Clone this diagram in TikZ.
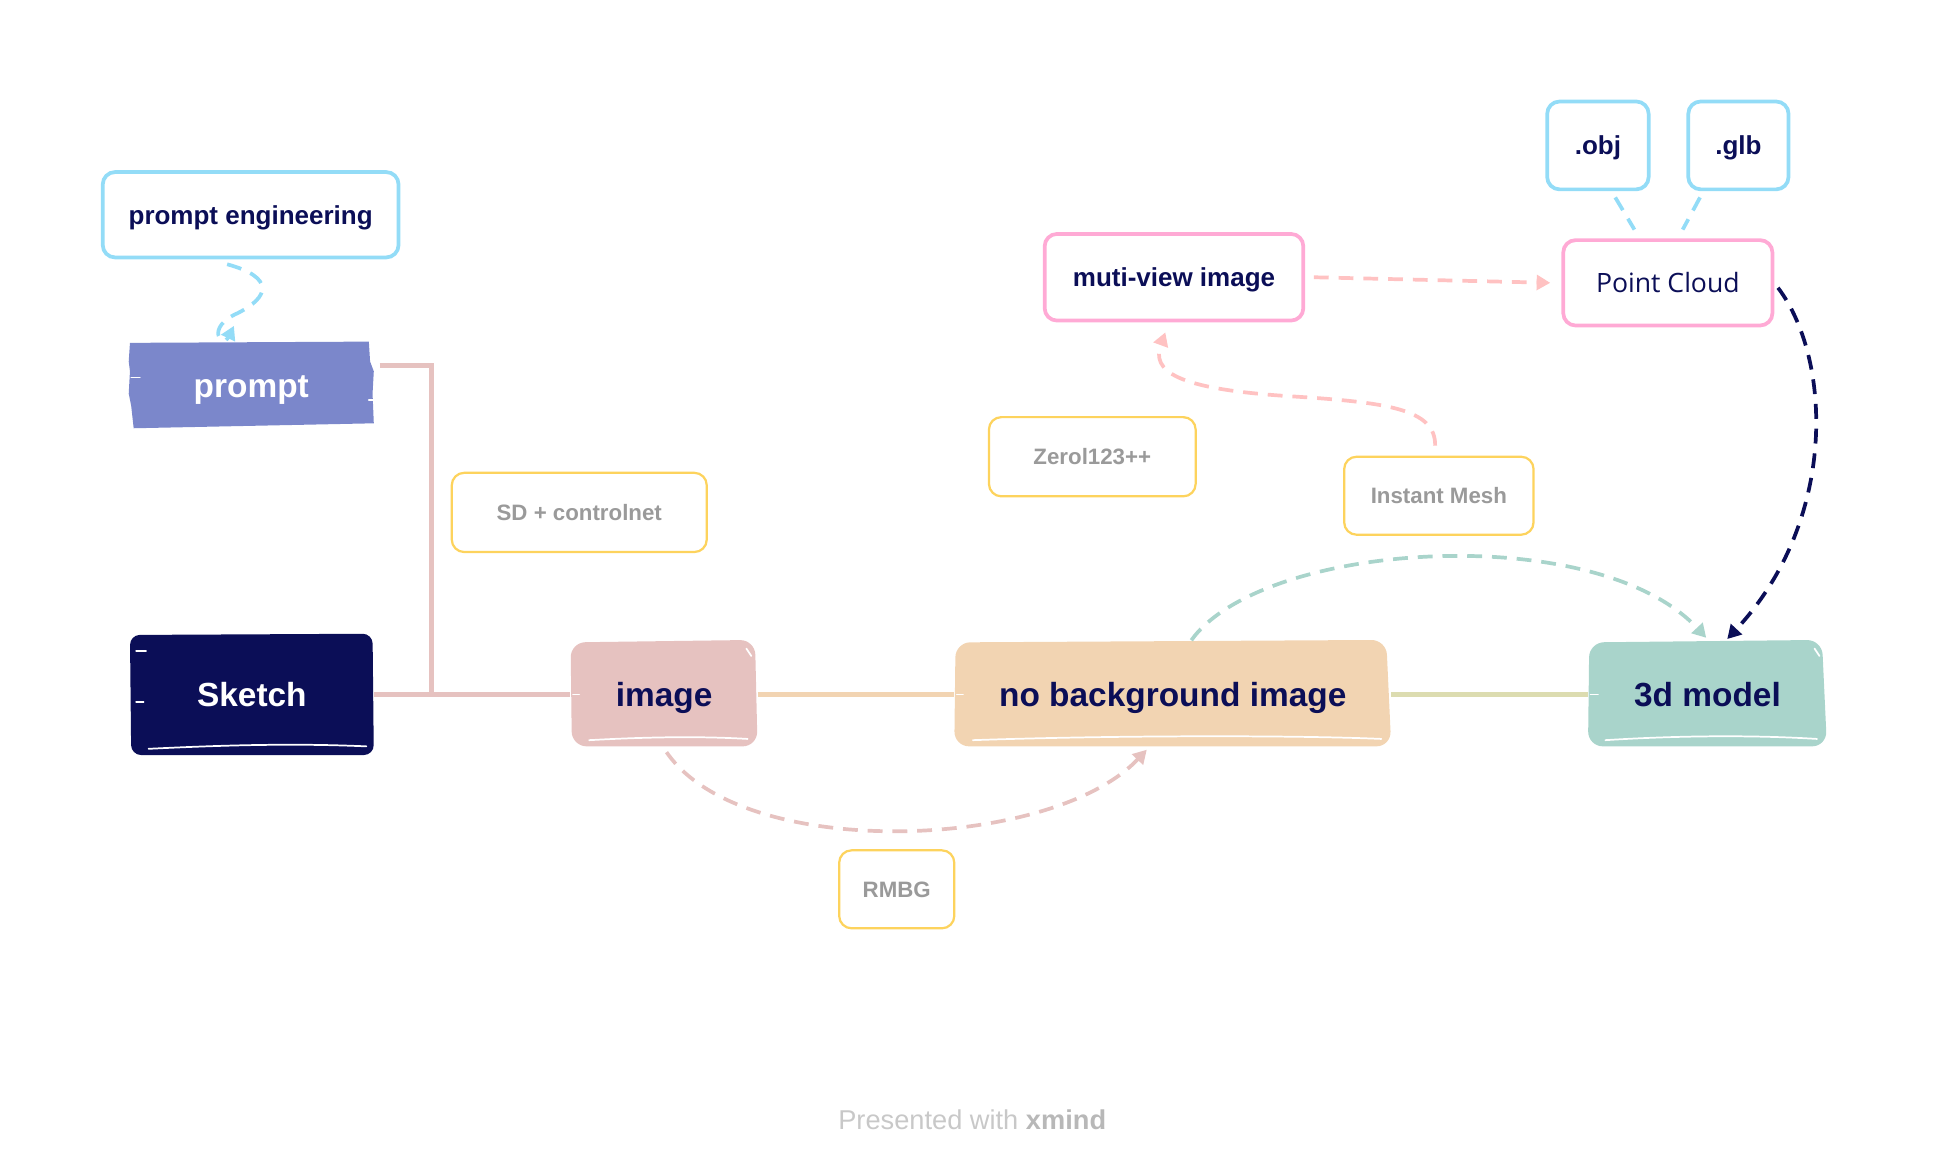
\documentclass[tikz,border=0pt]{standalone}
\usepackage{fontspec}
\setmainfont{Liberation Sans}
\newfontfamily\pcfont{Open Sans}
\usetikzlibrary{arrows.meta,calc}
\definecolor{cNavy}{HTML}{0B0E57}
\definecolor{cBlue}{HTML}{93DCF7}
\definecolor{cPeri}{HTML}{7B87CB}
\definecolor{cRose}{HTML}{E6C2C0}
\definecolor{cPeach}{HTML}{F2D4B2}
\definecolor{cTeal}{HTML}{A9D4CB}
\definecolor{cOlive}{HTML}{DCDCB0}
\definecolor{cYellow}{HTML}{FDD35D}
\definecolor{cGrayText}{HTML}{9A9A9A}
\definecolor{cPinkBorder}{HTML}{FFAAD5}
\definecolor{cPinkDash}{HTML}{FFC2C2}
\definecolor{cFoot}{HTML}{C8C8C8}
\definecolor{cFootB}{HTML}{B8B8B8}
\tikzset{
  outlined/.style={line width=3pt, rounded corners=10pt, fill=white, inner sep=0pt,
    text height=15pt, text depth=0pt},
  bluebox/.style={outlined, draw=cBlue, text=cNavy, font=\bfseries\fontsize{21}{24}\selectfont},
  pinkbox/.style={outlined, draw=cPinkBorder, text=cNavy},
  labelbox/.style={draw=cYellow, line width=1.8pt, rounded corners=10pt, fill=white, inner sep=0pt,
    text height=13pt, text depth=0pt,
    text=cGrayText, font=\bfseries\fontsize{18}{21}\selectfont},
  topic/.style={inner sep=0pt, text height=20pt, text depth=0pt, font=\bfseries\fontsize{27}{32}\selectfont},
  branch/.style={line width=4pt},
  rel/.style={line width=3pt, dash pattern=on 12pt off 8pt},
  tip/.style={-{Triangle[length=11pt,width=12pt]}},
  sketchmark/.style={white, line width=1.4pt, line cap=round},
}
\begin{document}
\begin{tikzpicture}[x=1pt, y=-1pt]
\useasboundingbox (0,0) rectangle (1569,945);

% ---------- filled topic shapes (hand-drawn look) ----------
\fill[cPeri] (105,277) -- (298,276) -- (299,292) -- (302,300) -- (301,318) -- (302,342)
   -- (108,346) -- (106,328) -- (104,318) -- (105,300) -- (104,292) -- cycle;
\fill[cNavy, rounded corners=8pt] (105,513) -- (301,512) -- (302,610) -- (106,610) -- cycle;
\fill[cRose, rounded corners=12pt] (461,519) -- (610,517) -- (612,603) -- (462,603) -- cycle;
\fill[cPeach, rounded corners=12pt] (772,519) -- (1120,517) -- (1124,603) -- (771,603) -- cycle;
\fill[cTeal, rounded corners=12pt] (1284,519) -- (1472,517) -- (1476,603) -- (1283,603) -- cycle;

% sketchy white marks
\draw[sketchmark] (106,305) -- (113,305);
\draw[sketchmark] (298,323) -- (302,323);
\draw[sketchmark] (110,526) -- (118,526);
\draw[sketchmark] (110,567) -- (116,567);
\draw[sketchmark] (120,605) .. controls (200,601) and (250,601) .. (296,603);
\draw[sketchmark] (463,561) -- (468,561);
\draw[sketchmark] (476,598) .. controls (530,595) and (570,595) .. (604,597);
\draw[sketchmark] (603,524) -- (607,530);
\draw[sketchmark] (773,561) -- (778,561);
\draw[sketchmark] (786,598) .. controls (900,594) and (1050,594) .. (1116,597);
\draw[sketchmark] (1285,561) -- (1291,561);
\draw[sketchmark] (1297,598) .. controls (1360,594) and (1420,594) .. (1468,597);
\draw[sketchmark] (1466,524) -- (1470,530);

% ---------- nodes ----------
\node[bluebox, minimum width=239pt, minimum height=69pt] (pe) at (202.5,173.5) {prompt engineering};
\node[topic, text=white, minimum width=197pt, minimum height=69pt] (prompt) at (203,311) {prompt};
\node[topic, text=white, minimum width=197pt, minimum height=98pt] (sketch) at (203.5,561) {Sketch};
\node[topic, text=cNavy, minimum width=151pt, minimum height=85pt] (image) at (536.5,561) {image};
\node[topic, text=cNavy, minimum width=353pt, minimum height=85pt] (nobg) at (947.5,561) {no background image};
\node[topic, text=cNavy, minimum width=193pt, minimum height=85pt] (model) at (1379.5,561) {3d model};

\node[labelbox, minimum width=206pt, minimum height=64pt] (sd) at (468,414) {SD + controlnet};
\node[labelbox, minimum width=167pt, minimum height=64pt] (zero) at (882.5,369) {Zerol123++};
\node[labelbox, minimum width=153pt, minimum height=63pt] (im) at (1162.5,400.5) {Instant Mesh};
\node[labelbox, minimum width=93pt, minimum height=63pt] (rmbg) at (724.5,718.5) {RMBG};

\node[pinkbox, font=\bfseries\fontsize{21}{24}\selectfont, minimum width=209pt, minimum height=70pt] (mv) at (948.5,224) {muti-view image};
\node[pinkbox, font=\pcfont\fontsize{21.5}{25}\selectfont, minimum width=169pt, minimum height=69pt] (pc) at (1347.5,228.5) {Point Cloud};
\node[bluebox, minimum width=82pt, minimum height=71pt] (obj) at (1291,117.5) {.obj};
\node[bluebox, minimum width=81pt, minimum height=71pt] (glb) at (1404.5,117.5) {.glb};

\node[text=cFoot, font=\fontsize{22}{26}\selectfont] (footer) at (785.5,905) {Presented with \textcolor{cFootB}{\bfseries xmind}};

% ---------- branches ----------
\coordinate (junction) at (349,561);
\draw[branch, cRose] ([xshift=5pt,yshift=16pt]prompt.east) -| (junction);
\draw[branch, cRose] (sketch.east) -- (image.west);
\draw[branch, cPeach] (image.east) -- (nobg.west);
\draw[branch, cOlive] (nobg.east) -- (model.west);

% ---------- relationships ----------
\draw[rel, cBlue, tip] ([xshift=-19pt,yshift=-4pt]pe.south) .. controls (222,224) and (218,240) .. (192,253)
   .. controls (165,265) and (180,282) .. ([xshift=-14pt,yshift=13pt]prompt.north);
\draw[rel, cPinkDash, tip] ([xshift=7pt]mv.east) -- ([xshift=-9pt]pc.west);
\draw[rel, cPinkDash, tip] ([xshift=-3pt,yshift=8pt]im.north) .. controls (1160,330) and (1120,325) .. (1040,320)
   .. controls (950,314) and (930,300) .. ([xshift=-7pt,yshift=-8pt]mv.south);
\draw[rel, cNavy, tip] ([xshift=3pt,yshift=-4pt]pc.east) .. controls (1480,290) and (1485,420) .. ([xshift=16pt,yshift=2pt]model.north);
\draw[rel, cTeal, tip] ([xshift=15pt,yshift=1pt]nobg.north) .. controls (1020,437) and (1290,420) .. ([xshift=-1pt,yshift=3pt]model.north);
\draw[rel, cRose, tip] ([xshift=2pt,yshift=-4pt]image.south) .. controls (600,697) and (850,687) .. ([xshift=-21pt,yshift=-2pt]nobg.south);
\draw[rel, cBlue] ([xshift=14pt,yshift=-5pt]obj.south) -- ([xshift=-27pt,yshift=7pt]pc.north);
\draw[rel, cBlue] ([xshift=-31pt,yshift=-5pt]glb.south) -- ([xshift=12pt,yshift=7pt]pc.north);
\end{tikzpicture}
\end{document}
